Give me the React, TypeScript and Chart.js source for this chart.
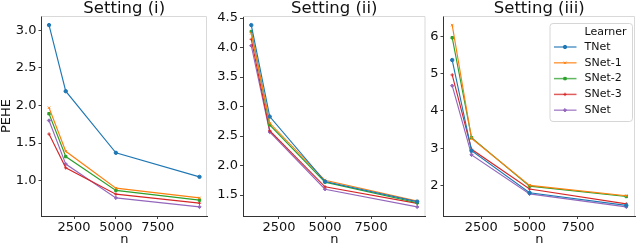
import React, { useEffect, useRef } from 'react';
import { Chart, registerables } from 'chart.js';
import { drawPoint } from 'chart.js/helpers';

Chart.register(...registerables);

// ---------------- data ----------------
const nValues = [1000, 2000, 5000, 10000];
const learners = ['TNet', 'SNet-1', 'SNet-2', 'SNet-3', 'SNet'];
const colors = ['#1f77b4', '#ff7f0e', '#2ca02c', '#d62728', '#9467bd'];
const markers = ['circle', 'crossRot', 'rect', 'cross', 'rectRot'];

// Setting (i)
const s1TNet = [3.07, 2.19, 1.37, 1.05];
const s1SNet1 = [1.97, 1.39, 0.9, 0.77];
const s1SNet2 = [1.89, 1.32, 0.87, 0.74];
const s1SNet3 = [1.62, 1.17, 0.82, 0.7];
const s1SNet = [1.8, 1.22, 0.77, 0.65];

// Setting (ii)
const s2TNet = [4.38, 2.83, 1.73, 1.39];
const s2SNet1 = [4.24, 2.72, 1.75, 1.4];
const s2SNet2 = [4.27, 2.69, 1.72, 1.37];
const s2SNet3 = [4.14, 2.59, 1.64, 1.36];
const s2SNet = [4.03, 2.57, 1.6, 1.3];

// Setting (iii)
const s3TNet = [5.37, 2.93, 1.8, 1.46];
const s3SNet1 = [6.31, 3.26, 2.0, 1.72];
const s3SNet2 = [5.97, 3.28, 1.98, 1.7];
const s3SNet3 = [4.97, 2.97, 1.9, 1.5];
const s3SNet = [4.68, 2.82, 1.77, 1.42];

const xTicks = [2500, 5000, 7500];
const yTicks1 = [1.0, 1.5, 2.0, 2.5, 3.0];
const yTicks2 = [1.5, 2.0, 2.5, 3.0, 3.5, 4.0, 4.5];
const yTicks3 = [2, 3, 4, 5, 6];
const titles = ['Setting (i)', 'Setting (ii)', 'Setting (iii)'];
const yAxisTitle = 'PEHE';
const xAxisTitle = 'n';
const legendTitle = 'Learner';

// ---------------- styling ----------------
const FONT = 'DejaVu Sans';
const TEXT = '#111111';

function paddedRange(values: number[]) {
  const lo = Math.min(...values);
  const hi = Math.max(...values);
  const m = (hi - lo) * 0.05;
  return [lo - m, hi + m];
}

const decoPlugin = {
  id: 'deco',
  beforeDatasetsDraw(chart: any) {
    const { ctx, chartArea: a } = chart;
    ctx.save();
    ctx.strokeStyle = '#d9d9d9';
    ctx.lineWidth = 1;
    ctx.beginPath();
    ctx.moveTo(a.left, a.top + 0.5);
    ctx.lineTo(a.right - 0.5, a.top + 0.5);
    ctx.lineTo(a.right - 0.5, a.bottom);
    ctx.stroke();
    ctx.restore();
  },
  afterDraw(chart: any, _args: any, opts: any) {
    const { ctx, chartArea: a } = chart;
    ctx.save();
    ctx.fillStyle = TEXT;
    ctx.font = `16.5px "${FONT}"`;
    ctx.textAlign = 'center';
    ctx.textBaseline = 'alphabetic';
    ctx.fillText(opts.title, (a.left + a.right) / 2, 13);
    ctx.restore();
  },
};

const legendPlugin = {
  id: 'learnerLegend',
  afterDraw(chart: any) {
    const { ctx, chartArea: a } = chart;
    const right = a.right - 3;
    const left = right - 82.5;
    const top = a.top + 7;
    const h = 98;
    ctx.save();
    ctx.fillStyle = 'rgba(255,255,255,0.8)';
    ctx.strokeStyle = '#d6d6d6';
    ctx.lineWidth = 1;
    ctx.beginPath();
    if ((ctx as any).roundRect) (ctx as any).roundRect(left + 0.5, top + 0.5, right - left, h, 3);
    else ctx.rect(left + 0.5, top + 0.5, right - left, h);
    ctx.fill();
    ctx.stroke();

    const textX = left + 35;
    ctx.font = `11px "${FONT}"`;
    ctx.textAlign = 'left';
    ctx.textBaseline = 'middle';
    ctx.fillStyle = TEXT;
    ctx.fillText(legendTitle, textX, top + 9);
    learners.forEach((name, i) => {
      const y = top + 24 + i * 15.8;
      ctx.strokeStyle = colors[i];
      ctx.fillStyle = colors[i];
      ctx.globalAlpha = 0.75;
      ctx.lineWidth = 1.5;
      ctx.beginPath();
      ctx.moveTo(left + 4.5, y);
      ctx.lineTo(left + 27, y);
      ctx.stroke();
      ctx.globalAlpha = 1;
      ctx.lineWidth = 1;
      drawPoint(ctx, { pointStyle: markers[i], radius: 1.7, borderWidth: 1, rotation: 0 } as any, left + 15.5, y);
      ctx.fillStyle = TEXT;
      ctx.fillText(name, textX, y);
    });
    ctx.restore();
  },
};

function makeConfig(
  series: number[][],
  yTicks: number[],
  decimals: number,
  title: string,
  showYTitle: boolean,
  padLeft: number,
  yWidth: number,
  padRight: number,
  withLegend: boolean
) {
  const [yMin, yMax] = paddedRange(series.flat());
  const [xMin, xMax] = paddedRange(nValues);
  const tickFont = { family: FONT, size: 13 };
  return {
    type: 'line' as const,
    data: {
      datasets: learners.map((name, i) => ({
        label: name,
        data: nValues.map((x, j) => ({ x, y: series[i][j] })),
        borderColor: colors[i],
        backgroundColor: colors[i],
        pointStyle: markers[i],
        pointRadius: 1.7,
        pointBorderWidth: 1,
        borderWidth: 1.15,
        tension: 0,
      })),
    },
    options: {
      responsive: false,
      animation: false,
      devicePixelRatio: 1,
      layout: { padding: { left: padLeft, right: padRight, top: 16, bottom: 0 } },
      plugins: {
        legend: { display: false },
        tooltip: { enabled: false },
        deco: { title },
      },
      scales: {
        x: {
          type: 'linear',
          min: xMin,
          max: xMax,
          afterBuildTicks: (s: any) => {
            s.ticks = xTicks.map((v) => ({ value: v }));
          },
          afterFit: (s: any) => {
            s.height = 31;
          },
          ticks: {
            callback: (v: any) => String(v),
            font: tickFont,
            color: TEXT,
            padding: 1,
            maxRotation: 0,
            autoSkip: false,
          },
          grid: { display: true, drawOnChartArea: false, drawTicks: true, tickLength: 3, color: '#444' },
          border: { display: true, color: '#333', width: 1 },
          title: { display: true, text: xAxisTitle, font: { family: FONT, size: 13, lineHeight: 1 }, color: TEXT, padding: { top: 0, bottom: 1 } },
        },
        y: {
          type: 'linear',
          min: yMin,
          max: yMax,
          afterBuildTicks: (s: any) => {
            s.ticks = yTicks.map((v) => ({ value: v }));
          },
          afterFit: (s: any) => {
            s.width = yWidth;
          },
          ticks: {
            callback: (v: any) => Number(v).toFixed(decimals),
            font: tickFont,
            color: TEXT,
            padding: 2,
            autoSkip: false,
          },
          grid: { display: true, drawOnChartArea: false, drawTicks: true, tickLength: 3, color: '#444' },
          border: { display: true, color: '#333', width: 1 },
          title: { display: showYTitle, text: yAxisTitle, font: { family: FONT, size: 13, lineHeight: 1 }, color: TEXT, padding: 0 },
        },
      },
    },
    plugins: withLegend ? [decoPlugin, legendPlugin] : [decoPlugin],
  };
}

export default function App() {
  const r1 = useRef<HTMLCanvasElement>(null);
  const r2 = useRef<HTMLCanvasElement>(null);
  const r3 = useRef<HTMLCanvasElement>(null);

  useEffect(() => {
    const charts: Chart[] = [];
    const cfgs = [
      makeConfig([s1TNet, s1SNet1, s1SNet2, s1SNet3, s1SNet], yTicks1, 1, titles[0], true, 0, 41.5, 433, false),
      makeConfig([s2TNet, s2SNet1, s2SNet2, s2SNet3, s2SNet], yTicks2, 1, titles[1], false, 208, 35, 214.5, false),
      makeConfig([s3TNet, s3SNet1, s3SNet2, s3SNet3, s3SNet], yTicks3, 0, titles[2], false, 418.5, 25, 3, true),
    ];
    [r1, r2, r3].forEach((r, i) => {
      if (r.current) charts.push(new Chart(r.current, cfgs[i] as any));
    });
    return () => charts.forEach((c) => c.destroy());
  }, []);

  const canvasStyle: React.CSSProperties = { position: 'absolute', left: 0, top: 0 };
  return (
    <div style={{ position: 'fixed', left: 0, top: 0, width: 640, height: 247, background: '#fff' }}>
      <canvas ref={r1} width={640} height={247} style={canvasStyle} />
      <canvas ref={r2} width={640} height={247} style={canvasStyle} />
      <canvas ref={r3} width={640} height={247} style={canvasStyle} />
    </div>
  );
}
